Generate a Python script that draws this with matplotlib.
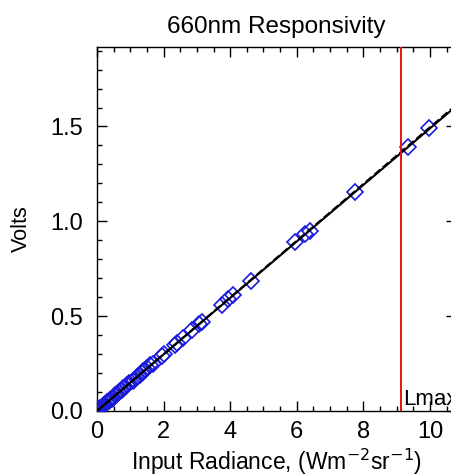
import numpy as np
import matplotlib
matplotlib.use('Agg')
import matplotlib.pyplot as plt
from matplotlib.ticker import MultipleLocator

plt.rcParams['font.family'] = ['Liberation Sans', 'DejaVu Sans']

# measured radiance (W m^-2 sr^-1) and detector output (V)
radiance = [0.0, 0.02, 0.04, 0.07, 0.1, 0.14, 0.17, 0.2, 0.24, 0.3, 0.35, 0.39,
            0.45, 0.49, 0.55, 0.59, 0.66, 0.74, 0.79, 0.84, 0.9, 0.97, 1.07,
            1.12, 1.19, 1.29, 1.35, 1.39, 1.45, 1.51, 1.59, 1.69, 1.94, 2.01,
            2.34, 2.41, 2.59, 2.84, 3.07, 3.14, 3.74, 3.94, 4.09, 4.62, 5.95,
            6.25, 6.40, 7.75, 9.35, 9.97]
volts = [0.0, 0.003, 0.006, 0.01, 0.015, 0.02, 0.025, 0.03, 0.035, 0.045, 0.05,
         0.06, 0.065, 0.07, 0.085, 0.09, 0.10, 0.11, 0.12, 0.125, 0.135, 0.145,
         0.16, 0.165, 0.18, 0.19, 0.20, 0.21, 0.215, 0.225, 0.24, 0.25, 0.29,
         0.30, 0.35, 0.36, 0.385, 0.425, 0.46, 0.47, 0.56, 0.59, 0.61, 0.686,
         0.89, 0.935, 0.95, 1.155, 1.39, 1.49]

fit_slope = 0.1490
fit_slope_alt = 0.1496
lmax = 9.12

fig = plt.figure(figsize=(4.51, 4.76), dpi=100)
ax = fig.add_axes([0.215, 0.1366, 0.796, 0.765])

x_fit = np.linspace(0, 11, 50)
ax.plot(radiance, volts, 'D', mfc='none', mec='#1a1adc', ms=8.5, mew=1.2, zorder=3)
ax.plot(x_fit, fit_slope * x_fit, color='black', lw=1.5, zorder=4)
ax.plot(x_fit, fit_slope_alt * x_fit, color='black', lw=1.5, ls='--', zorder=4)
ax.axvline(lmax, color='#e8130f', lw=1.4, zorder=5)
# label sits at the panel edge, so part of it runs past the border
ax.text(lmax + 0.08, 0.004, 'Lmax', fontsize=16, ha='left', va='bottom', zorder=6)

ax.set_xlim(0, 10.78)
ax.set_ylim(0, 1.92)
ax.xaxis.set_major_locator(MultipleLocator(2))
ax.xaxis.set_minor_locator(MultipleLocator(0.5))
ax.yaxis.set_major_locator(MultipleLocator(0.5))
ax.yaxis.set_minor_locator(MultipleLocator(0.1))
ax.set_yticks([0, 0.5, 1.0, 1.5])
ax.set_yticklabels(['0.0', '0.5', '1.0', '1.5'])

ax.tick_params(which='both', direction='in', top=True, right=True, width=1.0,
               labelsize=17)
ax.tick_params(which='major', length=7)
ax.tick_params(which='minor', length=3.6)
ax.tick_params(axis='x', pad=7)
ax.tick_params(axis='y', pad=10)
for side in ['left', 'bottom', 'top', 'right']:
    ax.spines[side].set_linewidth(1.0)

ax.set_title('660nm Responsivity', fontsize=17.5, pad=10)
ax.set_xlabel('Input Radiance, (Wm$^{-2}$sr$^{-1}$)', fontsize=16.5, labelpad=3)
ax.set_ylabel('Volts', fontsize=15.5, labelpad=13)

fig.savefig('out.png', dpi=100)
